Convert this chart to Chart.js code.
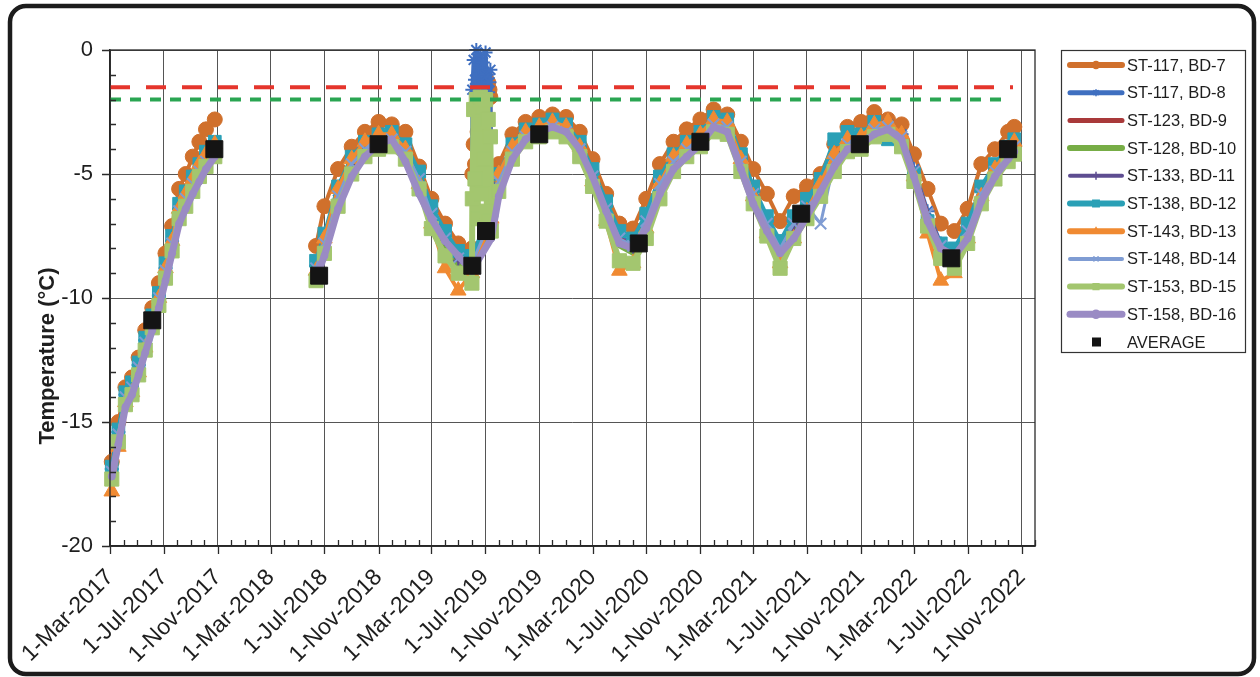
<!DOCTYPE html>
<html><head><meta charset="utf-8">
<script src="https://cdn.jsdelivr.net/npm/chart.js@4.4.1/dist/chart.umd.min.js"></script>
<style>
html,body{margin:0;padding:0;background:#fff;}
canvas{display:block;}
</style></head><body>
<canvas id="c" width="1260" height="677"></canvas>
<script>
// ---------- DATA ----------
const DATES = [
 '2017-03-05','2017-03-20','2017-04-05','2017-04-20','2017-05-05','2017-05-20','2017-06-05','2017-06-20',
 '2017-07-05','2017-07-20','2017-08-05','2017-08-20','2017-09-05','2017-09-20','2017-10-05','2017-10-25',
 '2018-06-12','2018-07-01','2018-08-01','2018-09-01','2018-10-01','2018-11-01','2018-12-01',
 '2019-01-01','2019-02-01','2019-03-01','2019-04-01','2019-05-01','2019-06-01',
 '2019-07-15','2019-08-01','2019-09-01','2019-10-01','2019-11-01','2019-12-01',
 '2020-01-01','2020-02-01','2020-03-01','2020-04-01','2020-05-01','2020-06-01','2020-07-01','2020-08-01','2020-09-01','2020-10-01','2020-11-01','2020-12-01',
 '2021-01-01','2021-02-01','2021-03-01','2021-04-01','2021-05-01','2021-06-01','2021-07-01','2021-08-01','2021-09-01','2021-10-01','2021-11-01','2021-12-01',
 '2022-01-01','2022-02-01','2022-03-01','2022-04-01','2022-05-01','2022-06-01','2022-07-01','2022-08-01','2022-09-01','2022-10-01','2022-10-15'
];
const SERIES_NAMES = ['ST-117, BD-7','ST-117, BD-8','ST-123, BD-9','ST-128, BD-10','ST-133, BD-11',
  'ST-138, BD-12','ST-143, BD-13','ST-148, BD-14','ST-153, BD-15','ST-158, BD-16'];

const BD7 = [-16.6,-15.0,-13.6,-13.2,-12.4,-11.3,-10.4,-9.4,-8.2,-7.1,-5.6,-5.0,-4.3,-3.7,-3.2,-2.8,
 -7.9,-6.3,-4.8,-3.9,-3.3,-2.9,-3.0,-3.3,-4.7,-6.0,-7.0,-7.8,-8.0,
 -5.9,-4.6,-3.4,-2.9,-2.7,-2.6,
 -2.7,-3.3,-4.4,-5.8,-7.0,-7.2,-6.0,-4.6,-3.7,-3.2,-2.8,-2.4,
 -2.6,-3.7,-4.8,-5.8,-6.9,-5.9,-5.5,-5.0,-3.8,-3.1,-2.9,-2.5,
 -2.8,-3.0,-4.2,-5.6,-7.0,-7.3,-6.4,-4.6,-4.0,-3.3,-3.1];
const BD8 = [-16.9,-15.4,-13.9,-13.5,-12.7,-11.7,-10.8,-9.9,-8.8,-7.7,-6.4,-5.9,-5.3,-4.8,-4.4,-3.9,
 -8.7,-7.6,-5.7,-4.5,-3.9,-3.6,-3.5,-4.0,-5.1,-6.5,-7.5,-8.3,-8.5,
 -6.7,-5.2,-4.0,-3.4,-3.2,-3.0,
 -3.2,-3.9,-5.0,-6.3,-7.5,-7.8,-6.8,-5.3,-4.4,-3.9,-3.5,-2.9,
 -3.0,-4.4,-5.7,-6.9,-7.9,-6.9,-6.2,-5.4,-4.4,-3.7,-3.6,-3.1,
 -3.0,-3.4,-4.8,-6.5,-7.8,-8.1,-7.2,-5.7,-4.8,-4.1,-3.8];
const BD9 = [-17.1,-15.6,-14.1,-13.6,-12.8,-11.8,-10.9,-10.0,-8.9,-7.9,-6.6,-6.0,-5.4,-4.9,-4.5,-4.0,
 -8.8,-7.8,-5.9,-4.7,-4.0,-3.7,-3.6,-4.1,-5.2,-6.6,-7.6,-8.4,-8.6,
 -6.8,-5.3,-4.1,-3.5,-3.3,-3.1,
 -3.3,-4.0,-5.1,-6.4,-7.6,-7.9,-6.9,-5.4,-4.5,-4.0,-3.6,-3.0,
 -3.1,-4.5,-5.8,-7.0,-8.0,-7.0,-6.3,-5.5,-4.5,-3.8,-3.7,-3.2,
 -3.1,-3.5,-4.9,-6.6,-7.9,-8.2,-7.3,-5.8,-4.9,-4.2,-3.9];
const BD10 = [-17.2,-15.7,-14.2,-13.8,-13.0,-12.0,-11.1,-10.2,-9.1,-8.0,-6.7,-6.2,-5.6,-5.1,-4.7,-4.2,
 -9.0,-8.0,-6.1,-4.9,-4.2,-3.9,-3.8,-4.3,-5.4,-6.9,-7.9,-8.7,-8.9,
 -7.0,-5.5,-4.3,-3.7,-3.4,-3.2,
 -3.4,-4.2,-5.3,-6.7,-7.9,-8.2,-7.2,-5.6,-4.7,-4.2,-3.8,-3.2,
 -3.3,-4.7,-6.0,-7.3,-8.3,-7.3,-6.5,-5.7,-4.7,-4.0,-3.9,-3.4,
 -3.3,-3.7,-5.1,-6.9,-8.2,-8.5,-7.5,-6.0,-5.1,-4.4,-4.1];
const BD11 = [-17.1,-15.6,-14.1,-13.7,-12.9,-11.9,-11.0,-10.1,-9.0,-7.9,-6.6,-6.1,-5.5,-5.0,-4.6,-4.1,
 -8.9,-7.9,-6.0,-4.8,-4.1,-3.8,-3.7,-4.2,-5.3,-6.7,-7.7,-8.5,-8.7,
 -6.9,-5.4,-4.2,-3.6,-3.4,-3.2,
 -3.4,-4.1,-5.2,-6.5,-7.7,-8.0,-7.0,-5.5,-4.6,-4.1,-3.7,-3.1,
 -3.2,-4.6,-5.9,-7.1,-8.1,-7.1,-6.4,-5.6,-4.6,-3.9,-3.8,-3.3,
 -3.2,-3.6,-5.0,-6.7,-8.0,-8.3,-7.4,-5.9,-5.0,-4.3,-4.0];
const BD12 = [-16.8,-15.3,-13.8,-13.4,-12.6,-11.6,-10.7,-9.8,-8.6,-7.5,-6.2,-5.7,-5.1,-4.6,-4.1,-3.7,
 -8.5,-7.4,-5.5,-4.3,-3.7,-3.4,-3.3,-3.8,-4.9,-6.3,-7.3,-8.1,-8.3,
 -6.5,-5.0,-3.8,-3.2,-3.0,-2.8,
 -3.0,-3.7,-4.8,-6.1,-7.3,-7.6,-6.6,-5.1,-4.2,-3.7,-3.3,-2.7,
 -2.8,-4.2,-5.5,-6.7,-7.7,-6.7,-6.0,-5.2,-3.6,-3.3,-3.4,-2.9,
 -3.6,-3.8,-5.0,-6.9,-7.8,-8.0,-7.0,-5.5,-4.6,-3.9,-3.6];
const BD13 = [-17.8,-16.0,-14.2,-13.8,-13.0,-12.0,-11.0,-10.0,-8.8,-7.7,-6.4,-5.8,-5.2,-4.6,-4.2,-3.8,
 -8.9,-7.6,-5.6,-4.4,-3.7,-3.4,-3.4,-4.0,-5.4,-7.0,-8.8,-9.7,-9.0,
 -6.8,-5.0,-3.9,-3.3,-3.1,-2.9,
 -3.1,-3.9,-5.3,-6.9,-8.9,-8.6,-7.2,-5.4,-4.3,-3.8,-3.4,-2.8,
 -2.9,-4.4,-5.9,-7.4,-8.6,-7.6,-6.5,-5.4,-4.2,-3.6,-3.5,-3.0,
 -2.9,-3.4,-5.1,-7.4,-9.3,-9.0,-7.6,-5.9,-4.8,-4.0,-3.7];
const BD14 = [-17.0,-15.5,-14.0,-13.6,-12.8,-11.8,-10.9,-10.0,-8.9,-7.8,-6.5,-6.0,-5.4,-4.9,-4.5,-4.2,
 -8.8,-7.8,-5.9,-4.6,-4.0,-3.7,-3.6,-4.1,-5.2,-6.6,-7.6,-8.4,-8.6,
 -6.8,-5.3,-4.1,-3.5,-3.3,-3.1,
 -3.3,-4.0,-5.1,-6.4,-7.6,-7.9,-6.9,-5.4,-4.5,-4.0,-3.6,-3.0,
 -3.1,-4.5,-5.8,-7.0,-8.0,-7.0,-6.3,-7.0,-4.5,-3.8,-3.7,-3.2,
 -3.1,-3.5,-4.9,-6.6,-7.9,-8.8,-7.3,-5.8,-4.9,-4.2,-3.9];
const BD15 = [-17.3,-15.8,-14.3,-13.9,-13.1,-12.1,-11.2,-10.3,-9.2,-8.1,-6.8,-6.3,-5.7,-5.1,-4.7,-4.3,
 -9.3,-8.2,-6.3,-5.0,-4.3,-4.0,-3.9,-4.4,-5.6,-7.2,-8.3,-9.0,-9.4,
 -7.3,-5.7,-4.4,-3.7,-3.5,-3.3,
 -3.5,-4.3,-5.5,-6.9,-8.5,-8.6,-7.6,-6.0,-4.9,-4.3,-3.9,-3.3,
 -3.4,-4.9,-6.2,-7.5,-8.8,-7.6,-6.8,-5.9,-4.9,-4.1,-4.0,-3.5,
 -3.4,-3.9,-5.3,-7.1,-8.4,-8.8,-7.8,-6.2,-5.2,-4.5,-4.2];
const BD16 = [-17.2,-15.9,-14.4,-13.9,-13.1,-12.2,-11.3,-10.4,-9.3,-8.2,-7.0,-6.4,-5.8,-5.3,-4.8,-4.3,
 -9.2,-8.3,-6.4,-5.1,-4.3,-3.8,-3.6,-4.5,-5.8,-6.8,-7.7,-8.3,-8.9,
 -7.6,-5.9,-4.4,-3.6,-3.3,-3.1,
 -3.3,-4.0,-5.1,-6.5,-7.8,-8.0,-7.2,-5.8,-4.8,-4.3,-3.8,-3.1,
 -3.3,-4.8,-6.2,-7.3,-8.2,-7.6,-6.7,-5.7,-4.7,-4.0,-3.8,-3.4,
 -3.2,-3.6,-5.1,-6.9,-8.0,-8.3,-7.6,-6.1,-5.1,-4.4,-4.1];

// June-July 2019 burst of readings
const SPIKE_DATES = ['2019-06-02','2019-06-05','2019-06-08','2019-06-11','2019-06-14','2019-06-17','2019-06-20',
 '2019-06-23','2019-06-26','2019-06-29','2019-07-02','2019-07-05','2019-07-08','2019-07-11','2019-07-13'];
const BD7_SPIKE  = [-5.0,-3.8,-4.6,-2.4,-3.3,-2.0,-2.8,-1.9,-2.2,-1.5,-1.1,-1.8,-1.3,-1.6,-1.9];
const BD8_SPIKE  = [-1.6,-0.4,-1.2,0.0,-1.8,-0.7,-0.2,-1.4,-0.5,-1.9,-0.1,-1.0,-1.7,-1.3,-0.8];
const BD15_SPIKE = [-6.0,-2.4,-5.2,-2.0,-6.8,-3.0,-1.9,-5.8,-2.3,-4.4,-2.0,-6.5,-2.8,-6.9,-3.5];

const AVG_DATES = ['2017-06-05','2017-10-24','2018-06-19','2018-11-01','2019-06-02','2019-07-03','2019-11-01','2020-06-14','2020-11-01','2021-06-18','2021-10-29','2022-05-25','2022-10-01'];
const AVG_VALUES = [-10.9,-4.0,-9.1,-3.8,-8.7,-7.3,-3.4,-7.8,-3.7,-6.6,-3.8,-8.4,-4.0];

const LIMIT_DATES_RED = ['2017-03-01','2022-10-12'];
const LIMIT_DATES_GREEN = ['2017-03-01','2022-09-28'];
const LIMIT_RED = -1.5;
const LIMIT_GREEN = -2.0;

const X_TICK_LABELS = ['1-Mar-2017','1-Jul-2017','1-Nov-2017','1-Mar-2018','1-Jul-2018','1-Nov-2018',
 '1-Mar-2019','1-Jul-2019','1-Nov-2019','1-Mar-2020','1-Jul-2020','1-Nov-2020','1-Mar-2021','1-Jul-2021',
 '1-Nov-2021','1-Mar-2022','1-Jul-2022','1-Nov-2022'];
const X_MIN = '2017-03-01', X_MAX = '2022-12-01';
const Y_MIN = -20, Y_MAX = 0, Y_MAJOR = 5;

// ---------- HELPERS ----------
const MON = {Jan:0,Feb:1,Mar:2,Apr:3,May:4,Jun:5,Jul:6,Aug:7,Sep:8,Oct:9,Nov:10,Dec:11};
function dayNum(s){const [y,m,d]=s.split('-').map(Number);return Date.UTC(y,m-1,d)/86400000;}
function labelDay(l){const [d,m,y]=l.split('-');return Date.UTC(+y,MON[m],+d)/86400000;}
function pts(dates, vals){return dates.map((d,i)=>({x:dayNum(d),y:vals[i]})).filter(p=>p.y!==null);}
function series(vals, spike){const a=pts(DATES,vals); if(spike) a.push(...pts(SPIKE_DATES,spike)); a.sort((p,q)=>p.x-q.x); return a;}

const LABEL_MAP = {};
X_TICK_LABELS.forEach(l=>{LABEL_MAP[labelDay(l)] = l;});
const MONTH_TICKS = [];
for(let y=2017,m=2; ; m++){ if(m>11){m=0;y++;} const v=Date.UTC(y,m,1)/86400000; if(v>dayNum(X_MAX)) break; MONTH_TICKS.push(v); }

const FONT = '"Liberation Sans", Arial, Helvetica, sans-serif';
Chart.defaults.font.family = FONT;
Chart.defaults.color = '#1e1e1e';

const STYLE = [
 {c:'#D0702C', ps:'circle', r:7.5, bw:4, lw:6, lm:3.5},
 {c:'#3F6FC0', ps:'star', r:7, bw:4, lw:5, pbw:2, lm:3},
 {c:'#A9393A', ps:'circle', r:0, bw:4, lw:5, lm:0},
 {c:'#77AD46', ps:'circle', r:0, bw:5, lw:6, lm:0},
 {c:'#5E4D91', ps:'cross', r:5, bw:4, lw:4, pbw:2, lm:3.5},
 {c:'#2AA0B6', ps:'rect', r:9, bw:4, lw:6, lm:4.5},
 {c:'#F08A32', ps:'triangle', r:9, bw:4, lw:6, lm:3.5},
 {c:'#7F9CD3', ps:'crossRot', r:8, bw:3, lw:4, pbw:2, lm:3},
 {c:'#A3C66F', ps:'rect', r:10, bw:6, lw:6, lm:4},
 {c:'#9A8BC4', ps:'circle', r:3.5, bw:7, lw:7, lm:4}
];
const VALUES = [BD7,BD8,BD9,BD10,BD11,BD12,BD13,BD14,BD15,BD16];
const SPIKES = [BD7_SPIKE,BD8_SPIKE,null,null,null,null,null,null,BD15_SPIKE,null];

const datasets = VALUES.map((v,i)=>({
  label: SERIES_NAMES[i], data: series(v, SPIKES[i]),
  borderColor: STYLE[i].c, backgroundColor: STYLE[i].c,
  pointBackgroundColor: STYLE[i].c, pointBorderColor: STYLE[i].c,
  pointStyle: STYLE[i].ps, pointRadius: STYLE[i].r, pointBorderWidth: STYLE[i].pbw||1,
  borderWidth: STYLE[i].bw, tension: 0, spanGaps: 60, clip: false,
  borderJoinStyle:'round', borderCapStyle:'round',
  order: 20 - i, inLegend: true, legendLine: STYLE[i].lw, legendMarker: STYLE[i].lm
}));
datasets.push({
  label:'AVERAGE', data: pts(AVG_DATES, AVG_VALUES), showLine:false,
  pointStyle:'rect', pointRadius:12, pointBackgroundColor:'#141414', pointBorderColor:'#141414',
  borderColor:'#141414', backgroundColor:'#141414', order:2, clip:false, inLegend:true
});
datasets.push({
  label:'limit-red', data: pts(LIMIT_DATES_RED,[LIMIT_RED,LIMIT_RED]), borderColor:'#E5352C',
  borderWidth:4, borderDash:[20,16], pointRadius:0, order:1, borderCapStyle:'butt'
});
datasets.push({
  label:'limit-green', data: pts(LIMIT_DATES_GREEN,[LIMIT_GREEN,LIMIT_GREEN]), borderColor:'#2AA552',
  borderWidth:4, borderDash:[11,9], pointRadius:0, order:0, borderCapStyle:'butt'
});

// ---------- PLUGINS ----------
const framePlugin = {
  id:'frame',
  beforeDraw(chart){
    const ctx = chart.ctx;
    ctx.save();
    ctx.fillStyle='#fff'; ctx.fillRect(0,0,chart.width,chart.height);
    ctx.strokeStyle='#1c1c1c'; ctx.lineWidth=4.5;
    ctx.beginPath(); ctx.roundRect(10,6,1244,668,16); ctx.stroke();
    ctx.restore();
  }
};
const decoPlugin = {
  id:'deco',
  afterDraw(chart){
    const {ctx, chartArea:a, scales:{x,y}} = chart;
    ctx.save();
    ctx.strokeStyle='#2a2a2a'; ctx.lineWidth=1.3;
    ctx.strokeRect(a.left, a.top, a.right-a.left, a.bottom-a.top);
    ctx.beginPath();
    x.ticks.forEach(t=>{
      const px = Math.round(x.getPixelForValue(t.value))+0.5;
      if(LABEL_MAP[t.value]){ctx.moveTo(px,a.bottom);ctx.lineTo(px,a.bottom+8);}
      else {ctx.moveTo(px,a.bottom);ctx.lineTo(px,a.bottom-6);}
    });
    y.ticks.forEach(t=>{
      const py = Math.round(y.getPixelForValue(t.value))+0.5;
      if(t.value % Y_MAJOR === 0){ctx.moveTo(a.left-8,py);ctx.lineTo(a.left,py);}
      else {ctx.moveTo(a.left,py);ctx.lineTo(a.left+6,py);}
    });
    ctx.stroke();
    // y axis title
    ctx.translate(48, 356); ctx.rotate(-Math.PI/2);
    ctx.fillStyle='#1e1e1e'; ctx.font='bold 22px '+FONT; ctx.textAlign='center'; ctx.textBaseline='middle';
    ctx.fillText('Temperature (°C)',0,0);
    ctx.restore();

    // legend
    const items = chart.data.datasets.filter(d=>d.inLegend);
    const drawPoint = Chart.helpers && Chart.helpers.drawPoint;
    ctx.save();
    ctx.strokeStyle='#333'; ctx.lineWidth=1.2;
    ctx.strokeRect(1061.5, 50.5, 184, 302);
    items.forEach((ds,i)=>{
      const cy = 65 + i*27.7;
      if(ds.showLine !== false){
        ctx.strokeStyle = ds.borderColor; ctx.lineWidth = ds.legendLine; ctx.lineCap='round';
        ctx.beginPath(); ctx.moveTo(1070,cy); ctx.lineTo(1122,cy); ctx.stroke();
        if(ds.legendMarker && drawPoint){
          ctx.fillStyle = ds.borderColor; ctx.strokeStyle = ds.borderColor; ctx.lineWidth = 1.5;
          drawPoint(ctx, {pointStyle: ds.pointStyle, radius: ds.legendMarker, rotation: 0, borderWidth: 1.5}, 1096, cy);
        }
      } else {
        ctx.fillStyle = ds.pointBackgroundColor; ctx.fillRect(1092,cy-4.5,9,9);
      }
      ctx.fillStyle='#1e1e1e'; ctx.font='16.5px '+FONT; ctx.textAlign='left'; ctx.textBaseline='middle';
      ctx.fillText(ds.label, 1127, cy+1);
    });
    ctx.restore();
  }
};

// ---------- CHART ----------
new Chart(document.getElementById('c'), {
  type:'line',
  data:{datasets},
  options:{
    responsive:false, animation:false, devicePixelRatio:1,
    layout:{padding:{left:0,right:225,top:50,bottom:0}},
    plugins:{legend:{display:false}, tooltip:{enabled:false}},
    scales:{
      x:{
        type:'linear', min:dayNum(X_MIN), max:dayNum(X_MAX),
        afterBuildTicks(s){ s.ticks = MONTH_TICKS.map(v=>({value:v})); },
        afterFit(s){ s.height = 131; },
        ticks:{ autoSkip:false, minRotation:45, maxRotation:45, padding:18,
          font:{size:23}, color:'#1e1e1e',
          callback:(v)=>LABEL_MAP[v] || '' },
        grid:{ drawTicks:false, lineWidth:1, color:(c)=> (c.tick && LABEL_MAP[c.tick.value]) ? '#555' : 'rgba(0,0,0,0)' },
        border:{ color:'#222', width:1.5 }
      },
      y:{
        type:'linear', min:Y_MIN, max:Y_MAX,
        afterFit(s){ s.width = 110; },
        ticks:{ stepSize:1, autoSkip:false, padding:17, font:{size:22}, color:'#1e1e1e',
          callback:(v)=> (v % Y_MAJOR === 0) ? String(v) : '' },
        grid:{ drawTicks:false, lineWidth:1, color:(c)=> (c.tick && c.tick.value % Y_MAJOR === 0) ? '#555' : 'rgba(0,0,0,0)' },
        border:{ color:'#222', width:1.5 }
      }
    }
  },
  plugins:[framePlugin, decoPlugin]
});
</script>
</body></html>
